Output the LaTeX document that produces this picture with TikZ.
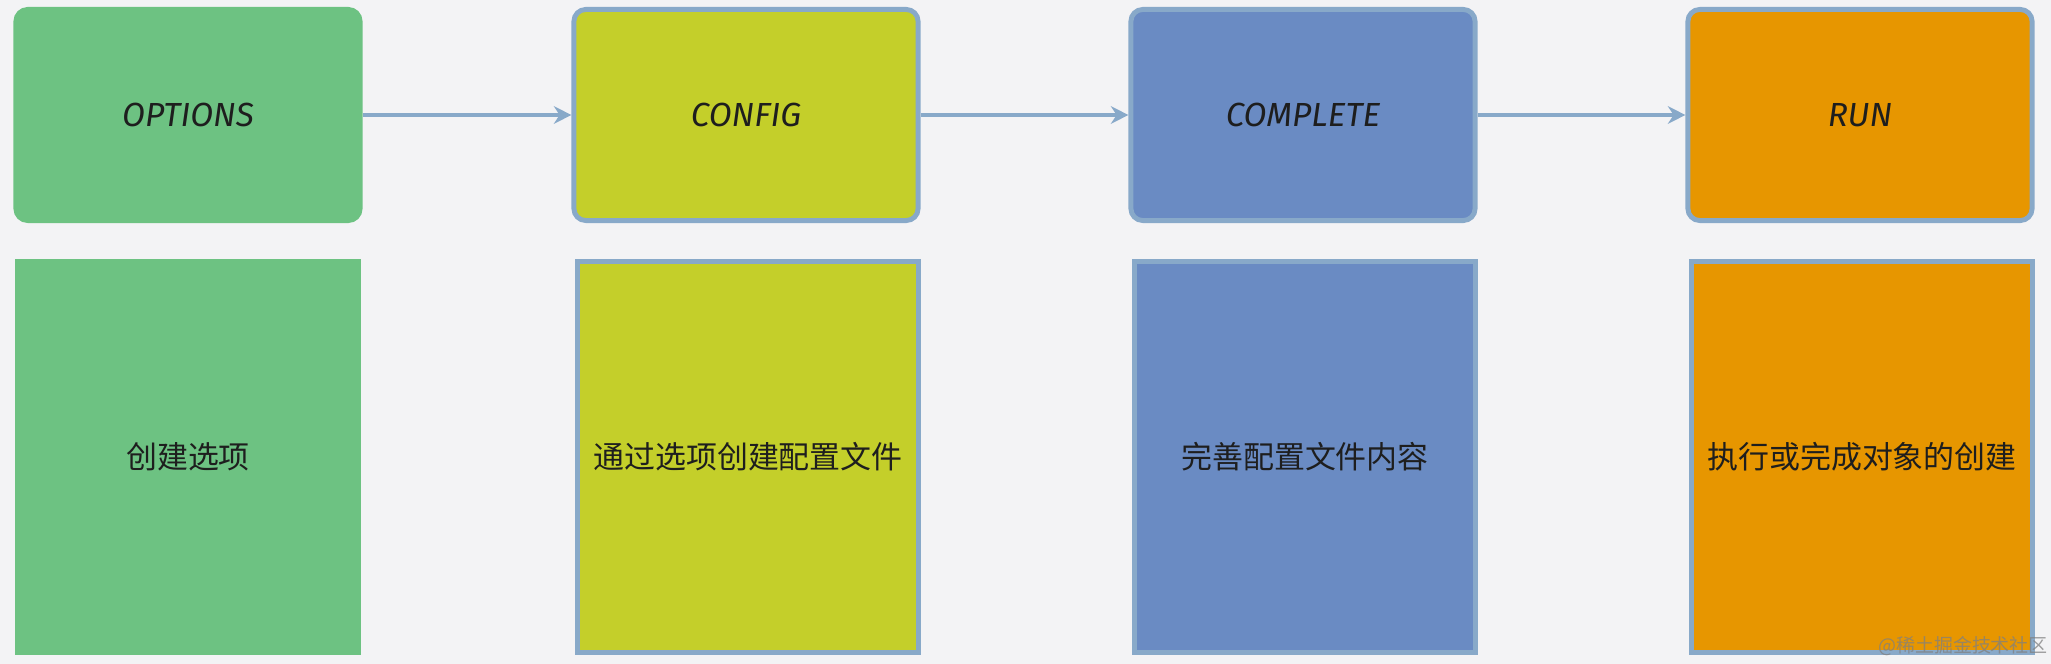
\documentclass[tikz,border=0pt]{standalone}
\usepackage{fontspec}
\setmainfont{Fira Sans}
\newfontfamily\cjk{Noto Sans CJK SC}
\usetikzlibrary{arrows.meta}

\definecolor{bgcol}{HTML}{F3F3F5}
\definecolor{optcol}{HTML}{6DC282}
\definecolor{cfgcol}{HTML}{C4CF2A}
\definecolor{cmpcol}{HTML}{6A8BC3}
\definecolor{runcol}{HTML}{E79600}
\definecolor{edgecol}{HTML}{88A9C9}
\definecolor{inkcol}{HTML}{1E1E1E}

\begin{document}
\begin{tikzpicture}[x=0.01cm, y=-0.01cm,
  head/.style={rounded corners=3.4pt, minimum width=3.44cm, minimum height=2.11cm,
    line width=1.4pt, text=inkcol, font=\itshape\fontsize{9.5}{11}\selectfont},
  sheet/.style={minimum width=3.41cm, minimum height=3.91cm,
    line width=1.4pt, text=inkcol, font=\cjk\fontsize{8.8}{10}\selectfont},
  flow/.style={draw=edgecol, line width=0.9pt, -{Stealth[length=5pt,width=5pt]}}]

\useasboundingbox[fill=bgcol] (0,0) rectangle (2051,664);

% stages
\node[head, fill=optcol, draw=optcol] (options) at (188,115) {OPTIONS};
\node[head, fill=cfgcol, draw=edgecol] (config) at (746,115) {CONFIG};
\node[head, fill=cmpcol, draw=edgecol] (complete) at (1303,115) {COMPLETE};
\node[head, fill=runcol, draw=edgecol] (run) at (1860,115) {RUN};

\draw[flow] (options.east) -- (config.west);
\draw[flow] (config.east) -- (complete.west);
\draw[flow] (complete.east) -- (run.west);

% descriptions
\node[sheet, fill=optcol, draw=optcol] (optdesc) at (188,457) {创建选项};
\node[sheet, fill=cfgcol, draw=edgecol] (cfgdesc) at (748,457) {通过选项创建配置文件};
\node[sheet, fill=cmpcol, draw=edgecol] (cmpdesc) at (1305,457) {完善配置文件内容};
\node[sheet, fill=runcol, draw=edgecol] (rundesc) at (1862,457) {执行或完成对象的创建};

\node[text=gray, opacity=0.75, font=\cjk\fontsize{5.4}{6}\selectfont] (mark) at (1963,646) {@稀土掘金技术社区};

\end{tikzpicture}
\end{document}
